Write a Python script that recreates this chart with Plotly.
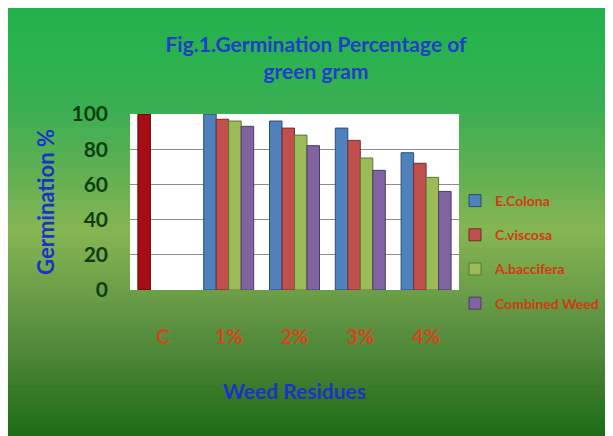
import plotly.graph_objects as go

categories = ["C", "1%", "2%", "3%", "4%"]
control = [100, None, None, None, None]
e_colona = [None, 100, 96, 92, 78]
c_viscosa = [None, 97, 92, 85, 72]
a_baccifera = [None, 96, 88, 75, 64]
combined_weed = [None, 93, 82, 68, 56]
y_ticks = [0, 20, 40, 60, 80, 100]

W, H = 613, 436
OFF = 8  # page body margin
# plot area in screen px
L, R, T, B = 130, 459, 114, 290

def px_x(p):
    return (p - L) / (R - L)

def px_y(p):
    return (B - p) / (B - T)

def hex2rgb(h):
    h = h.lstrip("#")
    return tuple(int(h[i:i+2], 16) for i in (0, 2, 4))

stops = [(8, "#22b14c"), (60, "#2bb24f"), (110, "#3cae53"), (170, "#5eb052"),
         (230, "#86b553"), (290, "#6c9f48"), (330, "#5a9040"), (380, "#3f7e2e"),
         (444, "#186a12")]

def color_at(y):
    for (y0, c0), (y1, c1) in zip(stops[:-1], stops[1:]):
        if y0 <= y <= y1:
            t = (y - y0) / (y1 - y0)
            a, b = hex2rgb(c0), hex2rgb(c1)
            return "rgb(%d,%d,%d)" % tuple(round(a[i] + (b[i] - a[i]) * t) for i in range(3))
    return stops[-1][1]

shapes = []
step = 6
y = 8
while y < H + OFF:
    y2 = min(y + step, H + OFF)
    shapes.append(dict(type="rect", xref="paper", yref="paper", layer="below",
                       x0=px_x(0), x1=px_x(W + OFF + 5), y0=px_y(y2 + 0.5), y1=px_y(y - 0.5 if y > 8 else 0),
                       fillcolor=color_at((y + y2) / 2), line=dict(width=0)))
    y = y2
shapes.append(dict(type="rect", xref="paper", yref="paper", layer="below",
                   x0=0, x1=1, y0=0, y1=1, fillcolor="white", line=dict(width=0)))

fig = go.Figure()
series = [("Control", control, "#a80c14", "#5e0509", "1", False),
          ("E.Colona", e_colona, "#4f81bd", "#2c4d75", "1", True),
          ("C.viscosa", c_viscosa, "#c0504d", "#772c2a", "2", True),
          ("A.baccifera", a_baccifera, "#9bbb59", "#5f7530", "3", True),
          ("Combined Weed", combined_weed, "#8064a2", "#4d3b62", "4", True)]
for name, vals, col, lc, og, sl in series:
    fig.add_trace(go.Bar(name=name, x=categories, y=vals, legendgroup=name,
                         offsetgroup=og, showlegend=sl,
                         marker=dict(color=col, line=dict(color=lc, width=1))))

fig.update_layout(
    width=W, height=H,
    margin=dict(l=L - OFF, r=W - R + OFF, t=T - OFF, b=H - B + OFF, autoexpand=False),
    paper_bgcolor="white", plot_bgcolor="white",
    barmode="group", bargap=0.24, bargroupgap=0,
    font=dict(family="Lato", size=14),
    shapes=shapes,
    title=dict(text="<b>Fig.1.Germination Percentage of<br>green gram</b>",
               x=308 / W, xanchor="center", xref="container",
               y=1 - 44 / H, yanchor="top", yref="container",
               font=dict(family="Lato", size=21, color="#1f3ec9")),
    legend=dict(x=px_x(455), xanchor="left", y=px_y(185), yanchor="top",
                bgcolor="rgba(0,0,0,0)", tracegroupgap=13,
                font=dict(family="Lato", size=14, color="#d33a12", weight="bold")),
    xaxis=dict(tickfont=dict(family="Lato", size=20, color="#d8441a", weight="bold"),
               ticklabelstandoff=33, showline=False, ticks="",
               title=dict(text="<b>Weed Residues</b>", standoff=37,
                          font=dict(family="Lato", size=21, color="#1a34c8"))),
    yaxis=dict(range=[0, 100], tickvals=y_ticks, showgrid=True, gridcolor="#8c8c8c",
               gridwidth=1, zeroline=False, showline=False, ticks="",
               ticklabelstandoff=21,
               tickfont=dict(family="Lato", size=21, color="#0e3f10", weight="bold"),
               title=dict(text="<b>Germination %</b>", standoff=10,
                          font=dict(family="Lato", size=22, color="#1a34c8"))),
)

fig.write_html("out.html")
